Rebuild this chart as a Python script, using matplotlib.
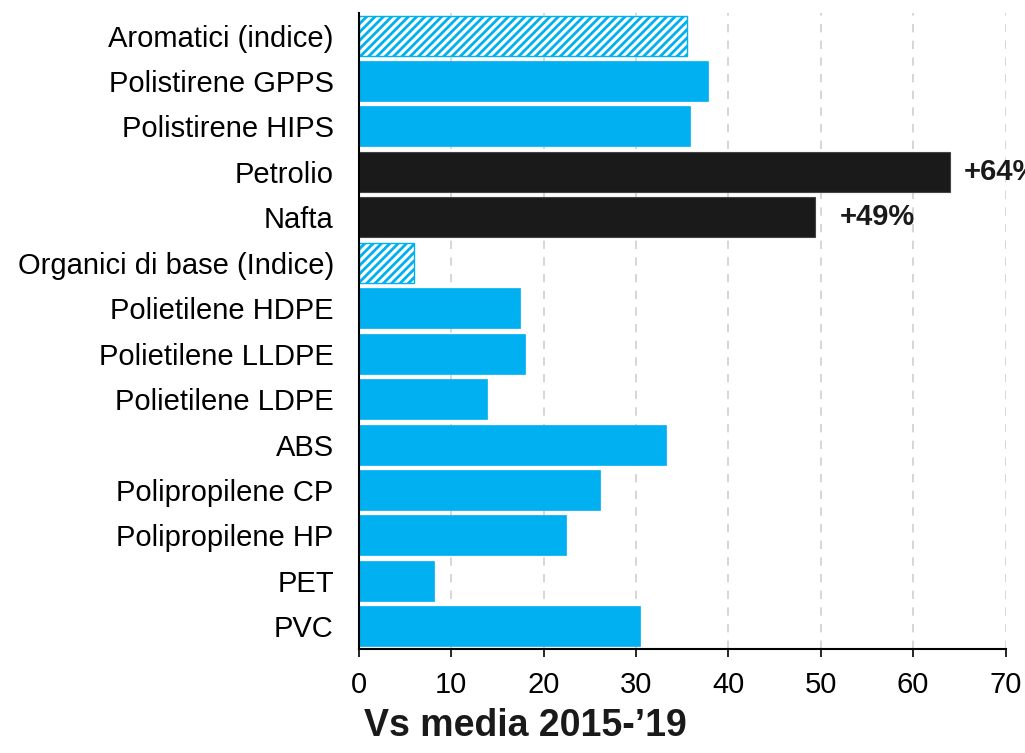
import matplotlib
matplotlib.use("Agg")
import matplotlib.pyplot as plt

categories = ["Aromatici (indice)", "Polistirene GPPS", "Polistirene HIPS", "Petrolio", "Nafta",
              "Organici di base (Indice)", "Polietilene HDPE", "Polietilene LLDPE", "Polietilene LDPE",
              "ABS", "Polipropilene CP", "Polipropilene HP", "PET", "PVC"]
values = [35.5, 37.8, 35.8, 64.0, 49.4, 6.0, 17.4, 18.0, 13.9, 33.2, 26.1, 22.4, 8.1, 30.4]
kinds = ["hatch", "solid", "solid", "dark", "dark", "hatch", "solid", "solid", "solid",
         "solid", "solid", "solid", "solid", "solid"]
annotations = {3: "+64%", 4: "+49%"}
annotation_offsets = {3: 10, 4: 18}
xticks = [0, 10, 20, 30, 40, 50, 60, 70]
xlabel = "Vs media 2015-\u201919"

BLUE = "#00B0F0"
DARK = "#1A1A1A"

plt.rcParams['font.family'] = ['Liberation Sans', 'DejaVu Sans']
plt.rcParams['hatch.linewidth'] = 2.0
plt.rcParams['hatch.color'] = BLUE

fig = plt.figure(figsize=(10.25, 7.53), dpi=100)
ax = fig.add_axes([0.350, 0.138, 0.631, 0.845])

for i, (v, k) in enumerate(zip(values, kinds)):
    if k == "hatch":
        ax.barh(i, v, height=0.88, color="white", edgecolor=BLUE, hatch="////", linewidth=1.0, zorder=3)
    elif k == "dark":
        ax.barh(i, v, height=0.88, color=DARK, edgecolor="#444444", linewidth=0.8, zorder=3)
    else:
        ax.barh(i, v, height=0.88, color=BLUE, edgecolor=BLUE, linewidth=0.5, zorder=3)

for i, t in annotations.items():
    ax.annotate(t, xy=(values[i], i), xytext=(annotation_offsets[i], 0), textcoords="offset points",
                ha="left", va="center", fontsize=21, fontweight="bold", color=DARK,
                annotation_clip=False, clip_on=False)

ax.set_ylim(len(categories) - 0.5, -0.5)
ax.set_xlim(0, 70)
ax.set_yticks(range(len(categories)))
ax.set_yticklabels(categories, fontsize=21)
ax.set_xticks(xticks)
ax.set_xticklabels([str(x) for x in xticks], fontsize=21)
ax.tick_params(axis="y", length=0, pad=18)
ax.tick_params(axis="x", length=6, width=1.2, direction="out", pad=10)
ax.xaxis.grid(True, linestyle=(0, (5, 5)), color="#D0D0D0", linewidth=1.2, zorder=0)
ax.set_axisbelow(True)
for s in ["top", "right"]:
    ax.spines[s].set_visible(False)
ax.spines["left"].set_linewidth(1.5)
ax.spines["bottom"].set_linewidth(1.5)
ax.spines["left"].set_zorder(4)

fig.text(525 / 1025, 0.036, xlabel, fontsize=27, fontweight="bold", color=DARK,
         ha="center", va="center")

fig.savefig("out.png", dpi=100)
